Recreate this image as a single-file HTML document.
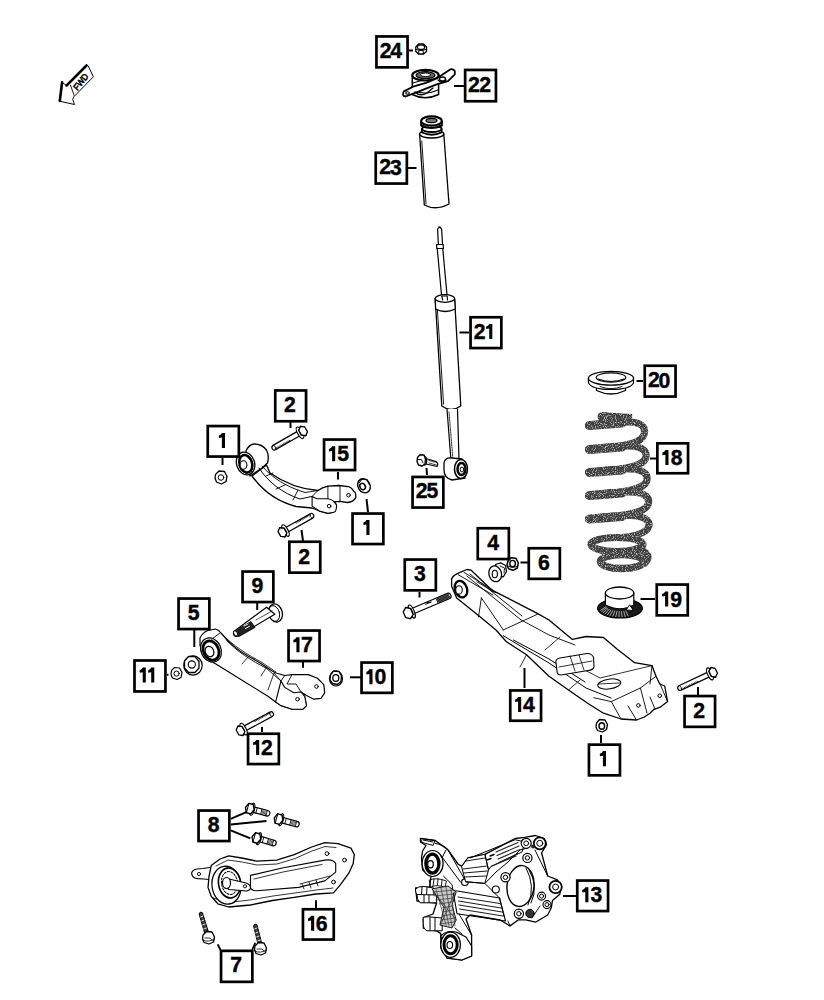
<!DOCTYPE html>
<html><head><meta charset="utf-8"><style>
html,body{margin:0;padding:0;background:#fff;}
svg{display:block;}
.lb{font-family:"Liberation Sans",sans-serif;font-weight:bold;font-size:21.2px;fill:#000;stroke:#000;stroke-width:0.4px;}
.fw{font-family:"Liberation Sans",sans-serif;font-size:9px;fill:#000;}
</style></head><body>
<svg width="824" height="1000" viewBox="0 0 824 1000">
<defs><filter id="speck" x="-10%" y="-10%" width="120%" height="120%">
<feTurbulence type="fractalNoise" baseFrequency="0.9" numOctaves="1" seed="3" result="n"/>
<feColorMatrix in="n" type="matrix" values="0 0 0 0 1  0 0 0 0 1  0 0 0 0 1  2.2 0 0 0 -1.15" result="w"/>
<feComposite in="w" in2="SourceGraphic" operator="in" result="wi"/>
<feMerge><feMergeNode in="SourceGraphic"/><feMergeNode in="wi"/></feMerge>
</filter></defs>
<rect width="824" height="1000" fill="#fff"/>
<g fill="#fff" stroke="#000" stroke-width="1.2" stroke-linejoin="round" stroke-linecap="round">
<!-- FWD arrow -->
<g id="fwd">
<path d="M85.8,65.5 L88,65.6 L93.4,76.8 L74.1,96.5 L72.7,99.4 L74.5,104.5 L59.6,101.2 L62.1,82.3 L66.5,85.6 Z" stroke-width="1"/>
<path d="M62.1,82.3 L59.8,101" stroke-width="2.6" fill="none"/>
<path d="M66.5,85.6 L86.5,65.5" stroke-width="2.6" fill="none"/>
<path d="M70.5,85.2 L74.1,95.4" stroke-width="0.9" fill="none"/>
<text class="fw" transform="translate(79.2,80.5) rotate(-51) scale(0.9,1)" text-anchor="middle" dy="5.2" font-size="15" fill="#fff" stroke="#000" stroke-width="0.6">FWD</text>
</g>
<!-- 24 nut -->
<g id="p24">
<path d="M415.8,47 L418.5,44 L423.5,44 L426.5,47 L426.5,51.5 L423.5,54 L418.5,54 L415.8,51.5 Z" stroke-width="1.3"/>
<ellipse cx="421" cy="47.2" rx="3.6" ry="2.2" stroke-width="1.2"/>
<path d="M416,49.5 Q421,52 426,49.5 M419,50.5 L418.5,54 M423,50.5 L423.5,54" stroke-width="1" fill="none"/>
</g>
<!-- 22 mount -->
<g id="p22">
<path d="M412.3,75.5 L412.3,94.5 Q425,101 438.6,94.5 L438.6,75.5 Z" stroke-width="1.5"/>
<path d="M413,90 Q425,96 438,90" stroke-width="1.1" fill="none"/>
<ellipse cx="425.5" cy="75.2" rx="13.2" ry="5.3" stroke-width="2.2"/>
<ellipse cx="425.5" cy="75.2" rx="9.5" ry="3.5" fill="#666" stroke-width="1.2"/>
<ellipse cx="425.5" cy="74.8" rx="5" ry="1.8" fill="#fff" stroke-width="1"/>
<path d="M403.8,91.4 L414,86.3 L425.9,82.9 L437.8,77.8 L450.5,69.3 Q453,68.5 454.8,71 L454.8,74.4 L448,81.2 L436,84.6 L419,91.4 L405.5,96.5 Q401.5,96 403.8,91.4 Z" stroke-width="1.8"/>
<ellipse cx="407.5" cy="93" rx="1.8" ry="1.3" stroke-width="1.1"/>
<path d="M413,83 L423,80 M438,80 Q442,84 446,80 M415,92 Q420,97 427,93 L433,88" stroke-width="1.3" fill="none"/>
<ellipse cx="442.5" cy="79" rx="3" ry="2" stroke-width="1.3"/>
</g>
<!-- 23 boot -->
<g id="p23">
<path d="M419.6,134 L424.3,205 Q436,211 449,204 L443.8,134 Z" stroke-width="1.3"/>
<path d="M421.8,141 L426,204" stroke-width="0.9" fill="none"/>
<ellipse cx="431.7" cy="134" rx="12.1" ry="4" stroke-width="1.4"/>
<path d="M422,129 L422,132.5 Q432,137 441.5,132.5 L441.5,129" stroke-width="1.9"/>
<ellipse cx="431.8" cy="128.8" rx="9.8" ry="3.2" stroke-width="1.8"/>
<path d="M421.2,121.5 L421.2,125.5 Q431.5,130.5 441.8,125.5 L441.8,121.5" stroke-width="2.1"/>
<ellipse cx="431.5" cy="121" rx="10.3" ry="4.6" stroke-width="2.1"/>
<ellipse cx="431.5" cy="120.5" rx="5.5" ry="2.2" fill="#777" stroke-width="1.2"/>
</g>
<!-- 21 shock -->
<g id="p21">
<path d="M437.6,229 Q439.6,226 441.6,229 L442.6,245 L438.4,245 Z" stroke-width="1.2"/>
<path d="M439,227 L440.5,227.5" stroke-width="1.6" fill="none"/>
<path d="M437.2,248 L442.7,248 L447.2,297 L441.7,297 Z" stroke-width="1.2"/>
<path d="M436.6,244.5 L443.2,244.5 L443.4,248.5 L436.8,248.5 Z" stroke-width="1.2"/>
<path d="M435.2,299 L441.8,406 Q451,413 460.8,406 L454.6,299 Z" stroke-width="1.3"/>
<path d="M437.4,310 L443.6,404" stroke-width="0.9" fill="none"/>
<path d="M435.3,299 L435.6,309 Q445,314 455.3,309 L454.6,299" stroke-width="1.3"/>
<ellipse cx="444.9" cy="298.5" rx="9.8" ry="3.8" stroke-width="1.3"/>
<path d="M442.7,300 L441.7,296 L447.2,296 L447.5,300" stroke-width="1.1"/>
<path d="M447,409 L451,461 L459,460 L457.5,409" stroke-width="1.2"/>
<path d="M449,412 L453,460" stroke-width="0.8" fill="none" stroke-dasharray="1.5,1"/>
<path d="M444,463 Q445,457 452,458 L462,459 L465,478 L452,480 Q444,478 444,470 Z" stroke-width="1.3"/>
<ellipse cx="461" cy="469" rx="6.5" ry="9.5" stroke-width="1.5"/>
<ellipse cx="461.5" cy="469" rx="4" ry="6" stroke-width="2.4"/>
<ellipse cx="462" cy="469.5" rx="1.8" ry="2.5" stroke-width="1"/>
</g>
<!-- 25 bolt -->
<g id="p25">
<path d="M424,458 L436,461.5 Q439,463.5 437,466.5 L424,463.5 Z" stroke-width="1.2"/>
<path d="M429,460.5 L436.5,462.5 M429,463 L436.5,465" stroke-width="0.8" fill="none" stroke-dasharray="1,0.8"/>
<ellipse cx="424.5" cy="460.8" rx="2.2" ry="4.3" stroke-width="1.2"/>
<path d="M417.5,457.5 L420,454.8 L424,455 L425.5,459 L425,464 L422,466 L418.5,465 L417,461.5 Z" stroke-width="1.4"/>
<path d="M418,459.5 L421.5,459.5 L423,463" stroke-width="0.9" fill="none"/>
</g>
<!-- 20 washer -->
<g id="p20">
<path d="M596.5,386 L596.5,390.5 Q611,397.5 625.5,390.5 L625.5,386" stroke-width="1.3"/>
<path d="M588.3,378.5 L588.5,383 Q592,389.5 611,389.5 Q630,389.5 633.5,383 L633.5,378.5" stroke-width="1.2"/>
<ellipse cx="611" cy="378.3" rx="22.6" ry="6.9" stroke-width="1.3"/>
<ellipse cx="611" cy="377.5" rx="14.8" ry="4.6" stroke-width="1.2"/>
<path d="M598,379 Q611,384 624,379" stroke-width="1" fill="none"/>
<path d="M600,386.5 Q611,391 622,386.5" stroke-width="0.9" fill="none"/>
</g>
<!-- 18 spring -->
<g id="p18" fill="none" stroke="#404040" stroke-linecap="round" stroke-linejoin="round" filter="url(#speck)">
<path d="M601.5,416.8 L632,418.5 " stroke-width="9" stroke-linecap="butt"/>
<path d="M602,416.8 L605,416.8" stroke-width="9"/>
<path d="M588.5,425.5 C600,424.0 618,421.5 630,422.0 C643,422.5 646,428.5 644,434.5 C641,442.5 630,445.0 614,447.0 C604,448.0 595,449.5 588.5,449.5 C600,448.0 618,445.5 630,446.0 C644.5,446.5 647.5,452.5 645.5,458.5 C642.5,465.5 630,468.0 614,470.0 C604,471.0 595,472.5 588.5,472.5 C600,471.0 618,468.5 630,469.0 C645.5,469.5 648.5,475.5 646.5,481.5 C643.5,488.5 630,491.0 614,493.0 C604,494.0 595,495.5 588.5,495.5 C600,494.0 618,491.5 630,492.0 C647,492.5 650,498.5 648,504.5 C645,512 630,514.5 614,516.5 C604,517.5 595,519 588.5,519 C600,517.5 618,515 630,515.5 C648,516 651,523 648,528 C645,533 636,536 622,537.5 " stroke-width="7.2"/>
<path d="M589.5,425.5 L622,423.0 M589.5,449.5 L622,447.0 M589.5,472.5 L622,470.0 M589.5,495.5 L622,493.0 M589.5,519 L622,516.5 " stroke-width="9"/>
<ellipse cx="617" cy="544.5" rx="26" ry="7" stroke-width="7.2"/>
<path d="M636,549 C648,551 651,557 645,563" stroke-width="7"/>
<ellipse cx="622" cy="561.5" rx="21.5" ry="7" stroke-width="7.5"/>
</g>
<!-- 19 puck -->
<g id="p19">
<ellipse cx="620" cy="608.3" rx="22.4" ry="9.6" fill="#1a1a1a" stroke-width="1.2"/>
<path d="M606.0,606.7 L600.7,610.3 M606.8,607.6 L601.7,611.6 M607.8,608.5 L603.2,612.8 M609.2,609.3 L605.1,613.9 M610.9,610.1 L607.4,614.8 M612.8,610.6 L610.0,615.6 M614.8,611.1 L612.8,616.2 M617.0,611.4 L615.8,616.6 M619.2,611.5 L619.0,616.8 M621.5,611.5 L622.1,616.8 M623.8,611.3 L625.2,616.5 M625.9,610.9 L628.1,616.0 " stroke="#ccc" stroke-width="0.8" fill="none"/>
<path d="M605.4,593 L605.4,605 Q620,612.5 633.8,605 L633.8,593 Z" stroke-width="1.2"/>
<ellipse cx="619.6" cy="593" rx="14.2" ry="6" stroke-width="1.3"/>
<path d="M629.5,605 L626,610 L633,610.5 Z" stroke-width="0.9"/>
</g>
<!-- 15 upper arm -->
<g id="p15">
<path d="M252,476 C262,490 275,501 296,506.5 L312.1,508 L319.4,511 L327.9,513.4 Q334,513 336.4,507.3 Q336,502.5 334,501.9 L340,501.3 L347.3,502.5 Q353.4,502 355.8,497.6 Q356,492 354,491.6 Q351,487 348.5,486.7 L338.8,485.5 L327.9,486.1 Q322,487.5 318,490.5 C298,489 283,482 270,473 L266.5,465 Z" stroke-width="1.3"/>
<path d="M246,451 Q249,444.5 254,444 Q262,444 266.5,450 Q269.5,456 267.5,463 L262,468 L250,476 Z" stroke-width="1.3"/>
<ellipse cx="245.6" cy="463.5" rx="9" ry="11.6" transform="rotate(-18 245.6 463.5)" stroke-width="1.3"/>
<ellipse cx="245.8" cy="463.8" rx="6.3" ry="9" transform="rotate(-18 245.8 463.8)" stroke-width="2.6"/>
<ellipse cx="243.5" cy="465" rx="3.4" ry="4.2" stroke-width="1.1"/>
<path d="M259,468 C268,482 282,493 300,499 L312.1,496.4" fill="none" stroke-width="1"/>
<path d="M262,466 C272,478 287,487 305,492.5 L318,490.5" fill="none" stroke-width="0.9"/>
<path d="M266,476 L273,473 M276,489 L286,484.5 M293,500 L298,490" fill="none" stroke-width="0.9"/>
<path d="M312.1,496.4 L317,498.8 L327.9,498.8 Q333,500 334,501.9 Q337.5,505 336.4,507.3 Q336,512 334,512.2 L327.9,513.4 L319.4,511 L312.1,506.1 Z" stroke-width="1.1"/>
<path d="M318,490.5 L312.1,496.4 M327.9,486.1 L327.9,498.8 M340,486 L340,501.3" fill="none" stroke-width="0.9"/>
<circle cx="348.5" cy="495.2" r="1.8" stroke-width="1"/>
<circle cx="329.1" cy="506.1" r="1.8" stroke-width="1"/>
</g>
<!-- nuts 1 -->
<g id="nut1a">
<path d="M215.5,474.5 L219,471 L224.5,471.5 L227,476.5 L226,481.5 L221.5,484 L216.5,482 L215,478 Z" stroke-width="1.3"/>
<circle cx="221" cy="477.5" r="2.8" stroke-width="1"/>
</g>
<g id="nut1b">
<ellipse cx="364" cy="485.8" rx="6" ry="7.4" transform="rotate(-30 364 485.8)" stroke-width="1.4"/>
<path d="M359,483 L362,479 L367,479.5 L369,484" fill="none" stroke-width="1.1"/>
<ellipse cx="362.6" cy="486.5" rx="2.6" ry="3.3" transform="rotate(-30 362.6 486.5)" stroke-width="1.5"/>
</g>
<!-- bolt 2a -->
<g id="bolt2a"><g transform="translate(302.6,431.3) rotate(150.2)"><path d="M3,-2.5 L32.22119226444343,-2.5 Q35.02119226444343,-2.5 35.02119226444343,0 Q35.02119226444343,2.5 32.22119226444343,2.5 L3,2.5 Z" stroke-width="1.2"/><path d="M15.4,-2.2 L16.3,-1.2 M17.0,-2.2 L17.9,-1.2 M18.6,-2.2 L19.5,-1.2 M20.2,-2.2 L21.1,-1.2 M21.8,-2.2 L22.7,-1.2 M23.4,-2.2 L24.3,-1.2 M25.0,-2.2 L25.9,-1.2 M26.6,-2.2 L27.5,-1.2 M28.2,-2.2 L29.1,-1.2 M29.8,-2.2 L30.7,-1.2 M31.4,-2.2 L32.3,-1.2" fill="none" stroke-width="0.7"/><path d="M32.0,-2.5 Q30.8,0 32.0,2.5" fill="none" stroke-width="0.8"/><ellipse cx="3" cy="0" rx="2.4" ry="6.4" stroke-width="1.2"/><polygon points="3.51,2.70 0.00,5.40 -3.51,2.70 -3.51,-2.70 -0.00,-5.40 3.51,-2.70" transform="translate(-0.5,0)" stroke-width="1.3"/><path d="M-1.1,-5.4 L2.7,-3.0 L2.7,3.0 L-1.1,5.4" fill="none" stroke-width="0.8"/></g></g>
<!-- bolt 2b -->
<g id="bolt2b"><g transform="translate(282.9,532.0) rotate(-29.3)"><path d="M3,-2.5 L32.29650127928504,-2.5 Q35.096501279285036,-2.5 35.096501279285036,0 Q35.096501279285036,2.5 32.29650127928504,2.5 L3,2.5 Z" stroke-width="1.2"/><path d="M15.4,-2.2 L16.3,-1.2 M17.0,-2.2 L17.9,-1.2 M18.6,-2.2 L19.5,-1.2 M20.2,-2.2 L21.1,-1.2 M21.8,-2.2 L22.7,-1.2 M23.4,-2.2 L24.3,-1.2 M25.0,-2.2 L25.9,-1.2 M26.6,-2.2 L27.5,-1.2 M28.2,-2.2 L29.1,-1.2 M29.8,-2.2 L30.7,-1.2 M31.4,-2.2 L32.3,-1.2" fill="none" stroke-width="0.7"/><path d="M32.1,-2.5 Q30.9,0 32.1,2.5" fill="none" stroke-width="0.8"/><ellipse cx="3" cy="0" rx="2.4" ry="6.4" stroke-width="1.2"/><polygon points="3.51,2.70 0.00,5.40 -3.51,2.70 -3.51,-2.70 -0.00,-5.40 3.51,-2.70" transform="translate(-0.5,0)" stroke-width="1.3"/><path d="M-1.1,-5.4 L2.7,-3.0 L2.7,3.0 L-1.1,5.4" fill="none" stroke-width="0.8"/></g></g>
<!-- 17 lower arm -->
<g id="p17">
<path d="M200,638 Q203,632 208,630.5 L215.5,629 Q219,630 221,633 C228,641 236,650 250,657.3 C260,662 268,669 276,673 L284.7,675.5 L292,674.6 L308.3,674.6 L317.4,678.3 L323.8,684.6 L324.7,692.8 L321,698.3 L313.8,699.2 L306.5,695.5 L301,692 L304.7,696.5 L306.5,705.6 L302.9,709.2 L292,709.2 L281,705.6 L275.6,702 L268.3,696.5 C258,690 245,682 230,672.8 L215.5,663.7 L208.2,660 L203.7,654.6 L200,645.5 Z" stroke-width="1.2"/>
<ellipse cx="211" cy="650" rx="10" ry="12.5" transform="rotate(-25 211 650)" stroke-width="1.2"/>
<ellipse cx="211" cy="650.5" rx="7.6" ry="10" transform="rotate(-25 211 650.5)" stroke-width="2.8"/>
<ellipse cx="209.5" cy="651.5" rx="4.2" ry="5.4" transform="rotate(-25 209.5 651.5)" stroke-width="1.2"/>
<path d="M220,633 L212,639 M226.4,640 C236,651 252,661 266,668 L281,681" fill="none" stroke-width="0.9"/>
<path d="M222,634 C232,645 248,655 262,662.5 L276,672" fill="none" stroke-width="0.8"/>
<path d="M242,664 L248,657 M261,676 L266,668 M268,690 L274,673 L281,681" fill="none" stroke-width="0.8"/>
<path d="M281,681 L284.7,687.4 L293.8,692.8 L301,692 L304.7,696.5 L306.5,705.6 L302.9,709.2 L292,709.2 L281,705.6 L275.6,702 Z" stroke-width="1.1"/>
<path d="M284.7,675.5 L281,681 M292,674.6 L287,684 L296,684 L301,692" fill="none" stroke-width="0.9"/>
<circle cx="316.5" cy="686.5" r="1.8" stroke-width="1"/>
<circle cx="297.5" cy="699.2" r="1.8" stroke-width="1"/>
</g>
<!-- 9 bolt -->
<g id="bolt9"><ellipse cx="275.5" cy="613" rx="6.8" ry="9.2" transform="rotate(-15 275.5 613)" stroke-width="1.3"/>
<ellipse cx="274" cy="613.5" rx="5.5" ry="8" transform="rotate(-15 274 613.5)" stroke-width="0.9" fill="none"/>
<path d="M266.6,607.3 L274.8,614.2 L238.4,636 Q234,637.5 233.5,633.5 Q233.5,631 235.5,630.2 Z" stroke-width="1.2"/>
<path d="M236.5,630 L251,621.5 L255,627.5 L239,636.5 Z" fill="#222" stroke-width="0.8"/>
<path d="M244,626 L248,624 M245.5,628.5 L249.5,626.3" stroke="#fff" stroke-width="1" fill="none"/>
<path d="M256,620 L272,611" stroke-width="0.7" fill="none" stroke-dasharray="1,0.8"/>
<ellipse cx="235.6" cy="633.3" rx="1.8" ry="2.8" transform="rotate(-30 235.6 633.3)" stroke-width="1" fill="#fff"/>
</g>
<!-- 5 nut -->
<g id="nut5">
<ellipse cx="193" cy="665.5" rx="9.2" ry="9.6" stroke-width="1.2"/>
<path d="M184.5,661 L188.5,656.5 L195,656.5 L199,661.5 L199,668 L195,672.5 L188.5,672.5 L184.5,668 Z" stroke-width="1.3"/>
<circle cx="191.8" cy="664.5" r="3.6" stroke-width="1.1"/>
</g>
<!-- 11 nut -->
<g id="nut11">
<path d="M171.5,670.5 L174.5,667.5 L179.5,668 L182,672.5 L181,677.5 L177,679.5 L172.5,678 L171,674.5 Z" stroke-width="1.2"/>
<circle cx="176.6" cy="673.6" r="2.6" stroke-width="1"/>
</g>
<!-- 10 nut -->
<g id="nut10">
<ellipse cx="336" cy="678.5" rx="6.5" ry="7.5" stroke-width="1.2"/>
<path d="M330.5,675 L333.5,671 L339,671.5 L341.5,676 L341,681.5 L337.5,684.5 L332.5,683.5 L330,680 Z" stroke-width="1.3"/>
<ellipse cx="335.8" cy="678" rx="3" ry="3.4" stroke-width="1.3"/>
</g>
<!-- 12 bolt -->
<g id="bolt12"><g transform="translate(241.0,730.5) rotate(-28.4)"><path d="M3,-2.5 L33.79455265819088,-2.5 Q36.59455265819088,-2.5 36.59455265819088,0 Q36.59455265819088,2.5 33.79455265819088,2.5 L3,2.5 Z" stroke-width="1.2"/><path d="M16.1,-2.2 L17.0,-1.2 M17.7,-2.2 L18.6,-1.2 M19.3,-2.2 L20.2,-1.2 M20.9,-2.2 L21.8,-1.2 M22.5,-2.2 L23.4,-1.2 M24.1,-2.2 L25.0,-1.2 M25.7,-2.2 L26.6,-1.2 M27.3,-2.2 L28.2,-1.2 M28.9,-2.2 L29.8,-1.2 M30.5,-2.2 L31.4,-1.2 M32.1,-2.2 L33.0,-1.2 M33.7,-2.2 L34.6,-1.2" fill="none" stroke-width="0.7"/><path d="M33.6,-2.5 Q32.4,0 33.6,2.5" fill="none" stroke-width="0.8"/><ellipse cx="3" cy="0" rx="2.4" ry="6.4" stroke-width="1.2"/><polygon points="3.51,2.70 0.00,5.40 -3.51,2.70 -3.51,-2.70 -0.00,-5.40 3.51,-2.70" transform="translate(-0.5,0)" stroke-width="1.3"/><path d="M-1.1,-5.4 L2.7,-3.0 L2.7,3.0 L-1.1,5.4" fill="none" stroke-width="0.8"/></g></g>
<!-- 14 trailing arm -->
<g id="p14">
<path d="M451.6,578.9 Q453,575.5 456.7,573.8 L466.8,569.5 L471.2,570.2 L493,591.3 L497.4,592.8 L538.2,613.9 L549,620 L572.4,639.4 L586,636.5 L603.5,637.5 L617,649 L634.6,662.7 L652,665.6 L656,676.3 L659.8,684 L664.7,686 L667.6,701.6 L659.8,707.4 L654,709.3 L650,713.2 L644.3,717 L636.5,720 L621,719 L603.5,713.2 L588,703.5 L568.5,690 L549,676.3 L526.5,654.7 L506.2,641.5 L496,630 L480,616.8 L456.7,597.9 L451.6,586.2 Z" stroke-width="1.3"/>
<ellipse cx="461" cy="589.1" rx="6" ry="8.5" transform="rotate(-20 461 589.1)" stroke-width="2.4"/>
<ellipse cx="459" cy="589.9" rx="3.3" ry="4.2" stroke-width="1.1"/>
<path d="M458,574.6 L493,595 M464,572.4 L497.4,592.8 M466.8,576 L520.7,619.7 M470,574 L522,616" fill="none" stroke-width="0.9"/>
<path d="M477,581.8 L493,591.3 M481.4,597.9 L478.5,616.8 M481.4,597.9 L500,625 L503.2,630 M503.2,630 L538.2,613.9" fill="none" stroke-width="0.9"/>
<path d="M503.2,635.7 L549,663 L586,688 L611,698 M513.4,640 L549,659 L585,682" fill="none" stroke-width="1"/>
<path d="M520.7,619.7 L549,635 L575,645" fill="none" stroke-width="0.9"/>
<path d="M545,650 L560,637 M575,665 L600,678 L652,665.6" fill="none" stroke-width="0.8"/>
<path d="M520,667 L526.5,654.7 M568.5,690 L580,680" fill="none" stroke-width="0.8"/>
<path d="M556,663 Q555,659 560,658 L587,653.5 Q591,653 593.5,657 L594,667 Q593,670 588,670.5 L561,675 Q557,675 557,671 Z" stroke-width="1.1"/>
<path d="M570,656 L575,671 M579,655 L584,670 M559,667 L592,661" fill="none" stroke-width="0.8"/>
<ellipse cx="609.3" cy="684" rx="11.6" ry="4.9" transform="rotate(-8 609.3 684)" stroke-width="1"/>
<path d="M598,684 L620,683" fill="none" stroke-width="0.8"/>
<path d="M593.8,697.7 L611.3,701.6 L640.4,688 L656,676.3 M611.3,701.6 L621,719 M628,706 L636.5,720 M640.4,688 L647,713 M650,697 L655,709 M660,684 L667.6,701.6 M652,665.6 L650,684" fill="none" stroke-width="0.9"/>
<circle cx="638.4" cy="705.4" r="1.8" stroke-width="1"/>
<circle cx="659.8" cy="695.7" r="1.8" stroke-width="1"/>
</g>
<!-- 3 bolt -->
<g id="bolt3"><g transform="translate(408.8,612.8) rotate(-23.0)"><path d="M3,-2.8 L43.3,-2.8 Q45.6,-2.8 45.6,0 Q45.6,2.8 43.3,2.8 L3,2.8 Z" stroke-width="1.2"/><rect x="30.4" y="-2.1999999999999997" width="13.3" height="4.3999999999999995" fill="#666" stroke="none"/><path d="M30.4,-2.8 L31.0,2.8 M31.7,-2.8 L32.3,2.8 M33.0,-2.8 L33.6,2.8 M34.3,-2.8 L34.9,2.8 M35.6,-2.8 L36.2,2.8 M36.9,-2.8 L37.5,2.8 M38.2,-2.8 L38.8,2.8 M39.5,-2.8 L40.1,2.8 M40.8,-2.8 L41.4,2.8 M42.1,-2.8 L42.7,2.8 M43.4,-2.8 L44.0,2.8" stroke="#000" stroke-width="0.6" fill="none"/><path d="M18.8,-2.8 L24.6,-1.1999999999999997 M18.8,-1.1999999999999997 L24.6,-1.1999999999999997" fill="none" stroke-width="0.8"/><ellipse cx="3.2" cy="0" rx="2.4" ry="7.0" stroke-width="1.2"/><polygon points="4.19,3.10 0.00,6.20 -4.19,3.10 -4.19,-3.10 -0.00,-6.20 4.19,-3.10" transform="translate(-0.6,0)" stroke-width="1.3"/><path d="M-1.2,-6.2 L3.1,-3.4 L3.1,3.4 L-1.2,6.2" fill="none" stroke-width="0.8"/></g></g>
<!-- 4 bushing -->
<g id="p4">
<path d="M495.5,564.5 L500.5,562.8 L505.5,565.5 L506.5,571.5 L503.5,576.5 L497,578 Z" stroke-width="1.3"/>
<path d="M500,566 L504.5,568 L504,573" fill="none" stroke-width="0.9"/>
<ellipse cx="495.2" cy="573.8" rx="6.3" ry="8" transform="rotate(-15 495.2 573.8)" stroke-width="1.3"/>
<ellipse cx="494.8" cy="574" rx="2.6" ry="3.8" stroke-width="1.1"/>
</g>
<!-- 6 nut -->
<g id="nut6">
<path d="M508,561 L511,557.8 L516,558.3 L518.3,563 L517.3,568 L513,570.3 L508.5,568.8 L507,565 Z" stroke-width="1.5"/>
<ellipse cx="512.6" cy="563.6" rx="2.8" ry="3.2" stroke-width="1.4"/>
<path d="M508,566 Q512.5,569 517.5,566" fill="none" stroke-width="0.9"/>
</g>
<!-- 1c nut -->
<g id="nut1c">
<path d="M596.5,723 L599.5,719.5 L605,720 L607.5,724.5 L606.5,729.5 L602.5,732 L597.5,730.5 L596,727 Z" stroke-width="1.3"/>
<ellipse cx="601.8" cy="726" rx="2.8" ry="3.2" stroke-width="1.4"/>
</g>
<!-- 2c bolt -->
<g id="bolt2c"><g transform="translate(712.7,672.6) rotate(154.7)"><path d="M3,-2.5 L35.61927697338162,-2.5 Q38.41927697338162,-2.5 38.41927697338162,0 Q38.41927697338162,2.5 35.61927697338162,2.5 L3,2.5 Z" stroke-width="1.2"/><path d="M16.9,-2.2 L17.8,-1.2 M18.5,-2.2 L19.4,-1.2 M20.1,-2.2 L21.0,-1.2 M21.7,-2.2 L22.6,-1.2 M23.3,-2.2 L24.2,-1.2 M24.9,-2.2 L25.8,-1.2 M26.5,-2.2 L27.4,-1.2 M28.1,-2.2 L29.0,-1.2 M29.7,-2.2 L30.6,-1.2 M31.3,-2.2 L32.2,-1.2 M32.9,-2.2 L33.8,-1.2 M34.5,-2.2 L35.4,-1.2" fill="none" stroke-width="0.7"/><path d="M35.4,-2.5 Q34.2,0 35.4,2.5" fill="none" stroke-width="0.8"/><ellipse cx="3" cy="0" rx="2.4" ry="6.4" stroke-width="1.2"/><polygon points="3.51,2.70 0.00,5.40 -3.51,2.70 -3.51,-2.70 -0.00,-5.40 3.51,-2.70" transform="translate(-0.5,0)" stroke-width="1.3"/><path d="M-1.1,-5.4 L2.7,-3.0 L2.7,3.0 L-1.1,5.4" fill="none" stroke-width="0.8"/></g></g>
<!-- 16 arm -->
<g id="p16">
<path d="M191.6,873.2 Q192.5,869.5 197,869 L203,868.5 L213,867 L213,880 L204,879 L198,878.7 Q192,878 191.6,873.2 Z" stroke-width="1.2"/>
<circle cx="199" cy="874" r="1.6" stroke-width="0.9"/>
<path d="M211.2,865.6 L220,859 L228.7,855.8 L241.8,858 L257,861.2 L276.7,860.1 L294.2,854.7 L311.7,847 L324.8,842.6 L338,843.7 L351,848.1 L354.3,854.7 L353.2,863.4 L348.8,873.2 L340.1,885.2 L333.5,892.9 L316,894 L294.2,897.3 L272.4,900.5 L250.5,905 L228.7,907 L217.8,903.8 L211.2,896.2 L208,887.4 L209,876.5 Z" stroke-width="1.3"/>
<path d="M216,866 L228,860 L242,862 L257,865 L277,864 L295,858.5 L312,851 L325,846.5 L336,847.5 M213,898 L228,902.5 L250,900 L273,896 L295,893 L316,890 L333,888" fill="none" stroke-width="0.8"/>
<path d="M250.5,875.4 L283.3,867.8 L324.8,860.1 Q333,859 335.7,863.4 L335.7,872.1 L324.8,880.9 L298.6,887.4 L257,890.7 Q251,891 250.5,887.4 Z" stroke-width="1.1"/>
<path d="M254,879 L283,872 L322,864.5 M300,884 L330,876 M316,880 L318,886 M309,882 L311,888 M302,884 L304,889" fill="none" stroke-width="0.8"/>
<ellipse cx="226.5" cy="885.2" rx="14.5" ry="19" transform="rotate(-8 226.5 885.2)" stroke-width="1.3"/>
<ellipse cx="229.5" cy="883" rx="11" ry="15" transform="rotate(-8 229.5 883)" stroke-width="1.6"/>
<ellipse cx="229.5" cy="883" rx="8" ry="11.5" transform="rotate(-8 229.5 883)" stroke-width="1" stroke-dasharray="2,1.5"/>
<path d="M229,879 L246,883 Q252,885 250,889.5 L247,891 L229,889.5 Q223,886 229,879 Z" stroke-width="1.2"/>
<ellipse cx="226.5" cy="883" rx="4" ry="5.5" stroke-width="1.2"/>
<circle cx="245" cy="886.3" r="1.6" stroke-width="0.9"/>
<circle cx="327" cy="853.6" r="1.9" stroke-width="1"/>
<circle cx="344.5" cy="860.1" r="1.9" stroke-width="1"/>
<circle cx="333.5" cy="882" r="1.9" stroke-width="1"/>
</g>
<!-- 8 bolts -->
<g id="bolts8">
<g transform="translate(249.8,808.6) rotate(14.9)"><path d="M3,-2.8 L17.86579975737196,-2.8 Q20.66579975737196,-2.8 20.66579975737196,0 Q20.66579975737196,2.8 17.86579975737196,2.8 L3,2.8 Z" stroke-width="1.2"/><path d="M7.0,-2.8 L7.0,2.8 M11.9,-2.8 L11.9,2.8 M17.4,-2.8 L17.4,2.8" fill="none" stroke-width="0.8"/><path d="M13.1,-1.7999999999999998 L13.1,1.7999999999999998 M14.3,-1.7999999999999998 L14.3,1.7999999999999998 M15.5,-1.7999999999999998 L15.5,1.7999999999999998 M16.7,-1.7999999999999998 L16.7,1.7999999999999998" fill="none" stroke="#555" stroke-width="0.9"/><ellipse cx="2.5" cy="0" rx="2.2" ry="6.199999999999999" stroke-width="1.2"/><polygon points="4.48,0.00 2.24,4.85 -2.24,4.85 -4.48,0.00 -2.24,-4.85 2.24,-4.85" stroke-width="1.4"/><path d="M-2.2,-4.8 L-2.2,4.8" fill="none" stroke-width="0.9"/></g>
<g transform="translate(278.6,819.1) rotate(15.6)"><path d="M3,-2.8 L18.453361581901387,-2.8 Q21.253361581901387,-2.8 21.253361581901387,0 Q21.253361581901387,2.8 18.453361581901387,2.8 L3,2.8 Z" stroke-width="1.2"/><path d="M7.2,-2.8 L7.2,2.8 M12.3,-2.8 L12.3,2.8 M18.0,-2.8 L18.0,2.8" fill="none" stroke-width="0.8"/><path d="M13.5,-1.7999999999999998 L13.5,1.7999999999999998 M14.7,-1.7999999999999998 L14.7,1.7999999999999998 M16.0,-1.7999999999999998 L16.0,1.7999999999999998 M17.2,-1.7999999999999998 L17.2,1.7999999999999998" fill="none" stroke="#555" stroke-width="0.9"/><ellipse cx="2.5" cy="0" rx="2.2" ry="6.199999999999999" stroke-width="1.2"/><polygon points="4.48,0.00 2.24,4.85 -2.24,4.85 -4.48,0.00 -2.24,-4.85 2.24,-4.85" stroke-width="1.4"/><path d="M-2.2,-4.8 L-2.2,4.8" fill="none" stroke-width="0.9"/></g>
<g transform="translate(256.4,838.0) rotate(16.2)"><path d="M3,-2.8 L17.684003657792825,-2.8 Q20.484003657792826,-2.8 20.484003657792826,0 Q20.484003657792826,2.8 17.684003657792825,2.8 L3,2.8 Z" stroke-width="1.2"/><path d="M6.9,-2.8 L6.9,2.8 M11.8,-2.8 L11.8,2.8 M17.2,-2.8 L17.2,2.8" fill="none" stroke-width="0.8"/><path d="M13.0,-1.7999999999999998 L13.0,1.7999999999999998 M14.2,-1.7999999999999998 L14.2,1.7999999999999998 M15.4,-1.7999999999999998 L15.4,1.7999999999999998 M16.5,-1.7999999999999998 L16.5,1.7999999999999998" fill="none" stroke="#555" stroke-width="0.9"/><ellipse cx="2.5" cy="0" rx="2.2" ry="6.199999999999999" stroke-width="1.2"/><polygon points="4.48,0.00 2.24,4.85 -2.24,4.85 -4.48,0.00 -2.24,-4.85 2.24,-4.85" stroke-width="1.4"/><path d="M-2.2,-4.8 L-2.2,4.8" fill="none" stroke-width="0.9"/></g>
</g>
<!-- 7 studs -->
<g id="studs7">
<path d="M199.2,914 Q200.5,911 202.5,913.2 L208.8,933.5 L205.2,934.5 Z" fill="#444" stroke-width="1.1"/>
<path d="M200.5,917 L203,916 M201.5,921 L204,920 M202.5,925 L205.2,924 M203.5,929 L206.5,928" stroke="#fff" stroke-width="0.8" fill="none"/>
<path d="M203,935 L206.5,931.5 L212,932 L214.5,937 L213.5,942 L209,944 L204,942.5 L202.5,938.5 Z" stroke-width="1.3"/>
<path d="M205,938 L210,938 L212.5,941 M203,940 Q208,943 214,939" fill="none" stroke-width="0.8"/>
<path d="M253.7,926 Q255,923 257,925.2 L262,945 L258.5,946 Z" fill="#444" stroke-width="1.1"/>
<path d="M254.5,929 L257,928 M255.5,933 L258,932 M256.5,937 L259.2,936 M257.5,941 L260.5,940" stroke="#fff" stroke-width="0.8" fill="none"/>
<path d="M255,946 L258.5,942.5 L264,943 L266.5,948 L265.5,953 L261,955 L256,953.5 L254.5,949.5 Z" stroke-width="1.3"/>
<path d="M257,949 L262,949 L264.5,952 M255,951 Q260,954 266,950" fill="none" stroke-width="0.8"/>
</g>
<g id="lead7" stroke-width="1.8" fill="none">
<path d="M220.5,950 L218,945 M252.5,949 L255,943.5"/>
</g>
<!-- 13 knuckle -->
<g id="p13">
<!-- silhouette -->
<path d="M420.5,838.4 L435.2,840.5 L447.8,849.6 L458,864 L461.8,866.4 L467.9,857.9 L484.9,854.3 L515.2,838.5 L524.6,837.3 L535.5,835.5 L544,838.5 L546.5,844.6 L541.6,853 L547.7,876 L557.4,879.8 L561,887 L559.8,894.3 L552.5,900.4 L551.3,907.7 L547.7,915 L535.5,922.2 L525.8,919.8 L518.5,919.8 L510,925.9 L504,922.2 L500,920 L470,915 L466,919 L471.6,935 L471.6,956 L462,960 L447,958 L440.8,948 L440.8,933.6 L437,931 L423.3,928 L423.3,917.5 L433,914 L436.6,903 L417,901 L415.6,888 L429.6,887 L431,876.2 L422.6,870 L421.5,858 L422.6,851 L426,845.5 L420.5,842 Z" stroke-width="1.3"/>
<!-- top tab -->
<path d="M420.5,838.4 L435.2,840.5 L433.1,845.4 L422.6,842.6 Z M423,840 L433,842" fill="none" stroke-width="1"/>
<!-- upper arm -->
<path d="M435.2,843.3 Q444,845 447.8,849.6 L466,881.8 M443.6,876.2 L452,884.6 L453.4,893 M440,854.3 L460.6,882.2 M446,850 L442,858" fill="none" stroke-width="1"/>
<circle cx="464.9" cy="882.2" r="3.3" stroke-width="1.1"/>
<!-- upper bushing -->
<ellipse cx="432.6" cy="863.5" rx="10.5" ry="13" stroke-width="1.2"/>
<ellipse cx="432.4" cy="863.6" rx="6.5" ry="9.5" stroke-width="3.4"/>
<ellipse cx="430.5" cy="864.3" rx="2.8" ry="3.6" stroke-width="1.2"/>
<!-- left horn/tabs -->
<path d="M429.6,880 Q436,877 446.4,881 L445,887.4 Q437,884 431,887 Z M434,879 L433,886 M438,878.5 L437.5,885 M442,879.5 L441.5,886" fill="none" stroke-width="0.9"/>
<path d="M415.6,889 Q418,886 424,886.5 L433.8,888 L433.8,895.8 L419,895.8 Q415,894 415.6,889 Z M422,887 L421.5,895.5 M427,887.5 L426.5,895.5" stroke-width="1"/>
<path d="M417,894.5 L436.6,895 L436.6,902.8 L420,902.8 Q416.5,899 417,894.5 Z M424,895 L424,902.5 M429,895 L429,902.5" stroke-width="1"/>
<path d="M423.3,918 Q424,916.5 428,916.8 L442.2,918 L442.2,930.8 L427,930.8 Q423,929 423.3,924 Z M430,917 L430,930.5 M435,917.5 L435,930.5" stroke-width="1"/>
<!-- hatched X -->
<path d="M432.4,888.8 L448,886 L456.2,892 L452,905 L456.2,920 L452,928 L440,925 L444,908 Z" fill="#c8c8c8" stroke-width="0.9"/>
<path d="M433,892 L455,890 M434,896 L454,894 M436,900 L453,898 M439,904 L452,902 M442,908 L452,906 M443,912 L453,910 M442,916 L454,914 M441,920 L455,918 M440,924 L454,922 M436,889 L446,925 M441,888 L449,926 M446,887 L452,927 M451,889 L455,926 M433,891 L456,920 M455,892 L441,924" fill="none" stroke="#333" stroke-width="0.7"/>
<!-- bottom bushing -->
<path d="M440.8,936 Q446,930 456,932 L466,937 L471.6,946 L471.6,956 L462,960 L447,958 Z" stroke-width="1.2"/>
<path d="M459,914 L471.6,935 M455,928 L462,934" fill="none" stroke-width="1"/>
<ellipse cx="450.6" cy="944.8" rx="9.8" ry="12.6" stroke-width="1.2"/>
<ellipse cx="450.6" cy="944.8" rx="6.6" ry="9" stroke-width="3"/>
<ellipse cx="449.8" cy="945" rx="2.8" ry="3.5" stroke-width="1.1"/>
<!-- upper body block with stripes -->
<path d="M461.8,866.4 L467.9,857.9 L484.9,854.3 L488.5,870 L484.9,883.4 L466,881.8 Z" stroke-width="1"/>
<path d="M463,869 L487,866 M463.5,873 L487.5,871 M464.5,877 L486.5,876 M466,861 L485,858" fill="none" stroke-width="0.9"/>
<!-- upper plate with dark stripes -->
<path d="M470.3,857.9 L515.2,839.7 L525,842.1 L522,852 L491,866.4 L488.5,870 L484.9,854.3" fill="none" stroke-width="1"/>
<path d="M496,852 L518,842.5 M497,855.5 L519,846 M498,859 L520,849.5 M499,862.5 L518,853.5 M492,866 L516,856" fill="none" stroke="#222" stroke-width="1.1"/>
<path d="M490,856 L494,854.5 M487,860 L491,858.5" fill="none" stroke-width="1.4"/>
<!-- lower body block -->
<path d="M455.8,890.7 L499.5,898 L505.5,921 M457,913.7 L505.5,921 M453.4,893 L457,913.7" fill="none" stroke-width="1.1"/>
<path d="M458,897 L500,903.5 M458.5,901 L501,908 M459,905 L502,912 M459.5,909 L503,916" fill="none" stroke-width="0.9"/>
<path d="M466,881.8 L484.9,883.4 L499.5,898" fill="none" stroke-width="1"/>
<!-- hub flange -->
<path d="M484.9,883.4 L496,872 L508,862 L520,850 L527.4,848 M499.5,898 L504,916 M535,850 L547.7,876" fill="none" stroke-width="1"/>
<ellipse cx="520.5" cy="886" rx="13.5" ry="20.5" transform="rotate(6 520.5 886)" stroke-width="1.4"/>
<path d="M526,868 Q536,886 528,905 M529,870 Q539,886 531,903" fill="none" stroke-width="1"/>
<circle cx="526.2" cy="843.3" r="5" stroke-width="1.2"/><circle cx="526.2" cy="843.3" r="2.4" stroke-width="1"/>
<circle cx="539.8" cy="843.3" r="6" stroke-width="1.8"/><circle cx="539.8" cy="843.3" r="3" stroke-width="1"/>
<circle cx="527.4" cy="857.9" r="4.6" stroke-width="1.2"/><circle cx="527.4" cy="857.9" r="2.2" stroke-width="1"/>
<circle cx="505.5" cy="877.3" r="4.6" stroke-width="1.2"/><circle cx="505.5" cy="877.3" r="2.2" stroke-width="1"/>
<circle cx="555.6" cy="887" r="6.2" stroke-width="1.8"/><circle cx="555.6" cy="887" r="3" stroke-width="1"/>
<circle cx="541.6" cy="896.1" r="4" stroke-width="1.1"/><circle cx="541.6" cy="896.1" r="2" stroke-width="1"/>
<circle cx="547" cy="904.6" r="4" stroke-width="1.1"/><circle cx="547" cy="904.6" r="2" stroke-width="1"/>
<circle cx="518.9" cy="913.7" r="4.6" stroke-width="1.2"/><circle cx="518.9" cy="913.7" r="2.2" stroke-width="1"/>
<circle cx="495.8" cy="889.5" r="3.5" stroke-width="1.1"/>
<circle cx="530" cy="913.5" r="4.2" fill="#333" stroke-width="1"/>
<circle cx="533" cy="846.5" r="2" fill="#222" stroke="none"/>
<path d="M540,906 L532,918 M510,925.9 L508,921" fill="none" stroke-width="0.9"/>
</g>

</g>
<rect x="376.45" y="36.45" width="31.10" height="30.90" fill="#fff" stroke="#000" stroke-width="2.7"/>
<text x="379.73" y="58.04" class="lb">2</text>
<text x="390.21" y="57.85" class="lb">4</text>
<rect x="465.15" y="69.95" width="30.80" height="31.30" fill="#fff" stroke="#000" stroke-width="2.7"/>
<text x="468.03" y="91.84" class="lb">2</text>
<text x="479.23" y="91.84" class="lb">2</text>
<rect x="375.75" y="152.75" width="31.10" height="30.80" fill="#fff" stroke="#000" stroke-width="2.7"/>
<text x="379.23" y="174.44" class="lb">2</text>
<text x="390.12" y="174.54" class="lb">3</text>
<rect x="470.55" y="317.25" width="30.80" height="30.80" fill="#fff" stroke="#000" stroke-width="2.7"/>
<text x="473.73" y="338.94" class="lb">2</text>
<path d="M489.20,323.90 L492.30,323.90 L492.30,339.00 L489.20,339.00 L489.20,328.60 L486.40,329.10 Q486.00,328.10 486.20,326.60 Q488.70,325.80 489.20,323.90 Z" fill="#000"/>
<rect x="644.75" y="365.75" width="30.80" height="30.80" fill="#fff" stroke="#000" stroke-width="2.7"/>
<text x="647.93" y="387.44" class="lb">2</text>
<text x="658.53" y="387.54" class="lb">0</text>
<rect x="275.25" y="390.45" width="30.80" height="30.80" fill="#fff" stroke="#000" stroke-width="2.7"/>
<text x="284.03" y="412.14" class="lb">2</text>
<rect x="207.75" y="426.05" width="31.10" height="30.50" fill="#fff" stroke="#000" stroke-width="2.7"/>
<path d="M221.90,432.90 L225.00,432.90 L225.00,448.00 L221.90,448.00 L221.90,437.60 L219.10,438.10 Q218.70,437.10 218.90,435.60 Q221.40,434.80 221.90,432.90 Z" fill="#000"/>
<rect x="324.05" y="439.55" width="31.00" height="30.50" fill="#fff" stroke="#000" stroke-width="2.7"/>
<path d="M332.10,446.20 L335.20,446.20 L335.20,461.30 L332.10,461.30 L332.10,450.90 L329.30,451.40 Q328.90,450.40 329.10,448.90 Q331.60,448.10 332.10,446.20 Z" fill="#000"/>
<text x="337.23" y="461.05" class="lb">5</text>
<rect x="657.35" y="443.35" width="30.70" height="29.90" fill="#fff" stroke="#000" stroke-width="2.7"/>
<path d="M665.40,450.00 L668.50,450.00 L668.50,465.10 L665.40,465.10 L665.40,454.70 L662.60,455.20 Q662.20,454.20 662.40,452.70 Q664.90,451.90 665.40,450.00 Z" fill="#000"/>
<text x="670.73" y="465.04" class="lb">8</text>
<rect x="412.55" y="476.95" width="30.80" height="30.60" fill="#fff" stroke="#000" stroke-width="2.7"/>
<text x="415.73" y="498.44" class="lb">2</text>
<text x="426.43" y="498.25" class="lb">5</text>
<rect x="352.55" y="513.55" width="30.80" height="30.50" fill="#fff" stroke="#000" stroke-width="2.7"/>
<path d="M366.40,519.90 L369.50,519.90 L369.50,535.00 L366.40,535.00 L366.40,524.60 L363.60,525.10 Q363.20,524.10 363.40,522.60 Q365.90,521.80 366.40,519.90 Z" fill="#000"/>
<rect x="289.35" y="541.75" width="30.90" height="30.90" fill="#fff" stroke="#000" stroke-width="2.7"/>
<text x="298.33" y="563.54" class="lb">2</text>
<rect x="477.75" y="528.25" width="31.10" height="30.80" fill="#fff" stroke="#000" stroke-width="2.7"/>
<text x="487.21" y="549.75" class="lb">4</text>
<rect x="528.75" y="548.25" width="31.10" height="30.60" fill="#fff" stroke="#000" stroke-width="2.7"/>
<text x="538.03" y="570.04" class="lb">6</text>
<rect x="404.75" y="559.55" width="31.10" height="30.80" fill="#fff" stroke="#000" stroke-width="2.7"/>
<text x="414.02" y="581.34" class="lb">3</text>
<rect x="242.55" y="571.55" width="30.80" height="30.50" fill="#fff" stroke="#000" stroke-width="2.7"/>
<text x="251.53" y="593.34" class="lb">9</text>
<rect x="656.75" y="584.55" width="31.00" height="30.80" fill="#fff" stroke="#000" stroke-width="2.7"/>
<path d="M665.10,591.40 L668.20,591.40 L668.20,606.50 L665.10,606.50 L665.10,596.10 L662.30,596.60 Q661.90,595.60 662.10,594.10 Q664.60,593.30 665.10,591.40 Z" fill="#000"/>
<text x="670.13" y="606.54" class="lb">9</text>
<rect x="178.55" y="598.55" width="30.80" height="30.50" fill="#fff" stroke="#000" stroke-width="2.7"/>
<text x="187.63" y="619.75" class="lb">5</text>
<rect x="288.55" y="630.55" width="31.00" height="30.50" fill="#fff" stroke="#000" stroke-width="2.7"/>
<path d="M296.40,637.20 L299.50,637.20 L299.50,652.30 L296.40,652.30 L296.40,641.90 L293.60,642.40 Q293.20,641.40 293.40,639.90 Q295.90,639.10 296.40,637.20 Z" fill="#000"/>
<text x="301.03" y="652.05" class="lb">7</text>
<rect x="134.50" y="660.50" width="30.95" height="30.95" fill="#fff" stroke="#000" stroke-width="2.7"/>
<path d="M142.70,667.50 L145.80,667.50 L145.80,682.60 L142.70,682.60 L142.70,672.20 L139.90,672.70 Q139.50,671.70 139.70,670.20 Q142.20,669.40 142.70,667.50 Z" fill="#000"/>
<path d="M151.20,667.50 L154.30,667.50 L154.30,682.60 L151.20,682.60 L151.20,672.20 L148.40,672.70 Q148.00,671.70 148.20,670.20 Q150.70,669.40 151.20,667.50 Z" fill="#000"/>
<rect x="361.55" y="662.55" width="30.80" height="30.30" fill="#fff" stroke="#000" stroke-width="2.7"/>
<path d="M369.40,669.20 L372.50,669.20 L372.50,684.30 L369.40,684.30 L369.40,673.90 L366.60,674.40 Q366.20,673.40 366.40,671.90 Q368.90,671.10 369.40,669.20 Z" fill="#000"/>
<text x="374.53" y="684.34" class="lb">0</text>
<rect x="510.25" y="690.45" width="30.80" height="30.30" fill="#fff" stroke="#000" stroke-width="2.7"/>
<path d="M518.10,696.90 L521.20,696.90 L521.20,712.00 L518.10,712.00 L518.10,701.60 L515.30,702.10 Q514.90,701.10 515.10,699.60 Q517.60,698.80 518.10,696.90 Z" fill="#000"/>
<text x="522.91" y="711.75" class="lb">4</text>
<rect x="684.55" y="696.05" width="30.50" height="30.80" fill="#fff" stroke="#000" stroke-width="2.7"/>
<text x="693.23" y="717.74" class="lb">2</text>
<rect x="248.05" y="733.75" width="30.80" height="30.30" fill="#fff" stroke="#000" stroke-width="2.7"/>
<path d="M256.10,739.90 L259.20,739.90 L259.20,755.00 L256.10,755.00 L256.10,744.60 L253.30,745.10 Q252.90,744.10 253.10,742.60 Q255.60,741.80 256.10,739.90 Z" fill="#000"/>
<text x="260.93" y="754.94" class="lb">2</text>
<rect x="588.95" y="744.65" width="31.00" height="30.70" fill="#fff" stroke="#000" stroke-width="2.7"/>
<path d="M602.90,751.10 L606.00,751.10 L606.00,766.20 L602.90,766.20 L602.90,755.80 L600.10,756.30 Q599.70,755.30 599.90,753.80 Q602.40,753.00 602.90,751.10 Z" fill="#000"/>
<rect x="198.55" y="810.55" width="30.80" height="30.50" fill="#fff" stroke="#000" stroke-width="2.7"/>
<text x="207.63" y="832.24" class="lb">8</text>
<rect x="577.25" y="880.55" width="30.80" height="30.50" fill="#fff" stroke="#000" stroke-width="2.7"/>
<path d="M585.30,887.20 L588.40,887.20 L588.40,902.30 L585.30,902.30 L585.30,891.90 L582.50,892.40 Q582.10,891.40 582.30,889.90 Q584.80,889.10 585.30,887.20 Z" fill="#000"/>
<text x="590.42" y="902.34" class="lb">3</text>
<rect x="302.95" y="909.25" width="30.80" height="30.30" fill="#fff" stroke="#000" stroke-width="2.7"/>
<path d="M311.10,915.70 L314.20,915.70 L314.20,930.80 L311.10,930.80 L311.10,920.40 L308.30,920.90 Q307.90,919.90 308.10,918.40 Q310.60,917.60 311.10,915.70 Z" fill="#000"/>
<text x="315.83" y="930.84" class="lb">6</text>
<rect x="221.05" y="950.85" width="31.30" height="31.00" fill="#fff" stroke="#000" stroke-width="2.7"/>
<text x="230.23" y="972.25" class="lb">7</text>
<line x1="409" y1="50.5" x2="413" y2="50.5" stroke="#000" stroke-width="2"/>
<line x1="454" y1="86" x2="464" y2="86" stroke="#000" stroke-width="2"/>
<line x1="408" y1="168" x2="416.5" y2="168" stroke="#000" stroke-width="2"/>
<line x1="459.5" y1="332.5" x2="469" y2="332.5" stroke="#000" stroke-width="2"/>
<line x1="636.5" y1="381" x2="643" y2="381" stroke="#000" stroke-width="2"/>
<line x1="290.5" y1="422" x2="290.5" y2="428" stroke="#000" stroke-width="2"/>
<line x1="222.5" y1="458" x2="222.5" y2="465" stroke="#000" stroke-width="2"/>
<line x1="338" y1="472" x2="338" y2="479.5" stroke="#000" stroke-width="2"/>
<line x1="650" y1="458.5" x2="656" y2="458.5" stroke="#000" stroke-width="2"/>
<line x1="426.5" y1="468" x2="427" y2="475" stroke="#000" stroke-width="2"/>
<line x1="366.5" y1="499" x2="368" y2="512" stroke="#000" stroke-width="2"/>
<line x1="301.5" y1="530" x2="303" y2="541" stroke="#000" stroke-width="2"/>
<line x1="520.5" y1="562.5" x2="528" y2="562.5" stroke="#000" stroke-width="2"/>
<line x1="419.5" y1="592" x2="419.5" y2="597.5" stroke="#000" stroke-width="2"/>
<line x1="257.2" y1="603" x2="257.2" y2="610" stroke="#000" stroke-width="2"/>
<line x1="640.5" y1="599" x2="655" y2="599" stroke="#000" stroke-width="2"/>
<line x1="194.3" y1="630" x2="194.3" y2="647" stroke="#000" stroke-width="2"/>
<line x1="303" y1="662" x2="303" y2="667.7" stroke="#000" stroke-width="2"/>
<line x1="167" y1="674.7" x2="168.5" y2="674.7" stroke="#000" stroke-width="2"/>
<line x1="350" y1="677.3" x2="361" y2="677.3" stroke="#000" stroke-width="2"/>
<line x1="524.5" y1="668" x2="524.5" y2="688" stroke="#000" stroke-width="2"/>
<line x1="698" y1="687" x2="698" y2="695" stroke="#000" stroke-width="2"/>
<line x1="262" y1="727" x2="262" y2="732" stroke="#000" stroke-width="2"/>
<line x1="601" y1="735" x2="601" y2="743" stroke="#000" stroke-width="2"/>
<line x1="230.7" y1="818.8" x2="246.9" y2="811.9" stroke="#000" stroke-width="2"/>
<line x1="230.7" y1="824.6" x2="266.5" y2="821" stroke="#000" stroke-width="2"/>
<line x1="230.7" y1="830.4" x2="250.3" y2="838.4" stroke="#000" stroke-width="2"/>
<line x1="563" y1="896" x2="576" y2="896" stroke="#000" stroke-width="2"/>
<line x1="316" y1="900.3" x2="316" y2="908" stroke="#000" stroke-width="2"/>
</svg>
</body></html>
